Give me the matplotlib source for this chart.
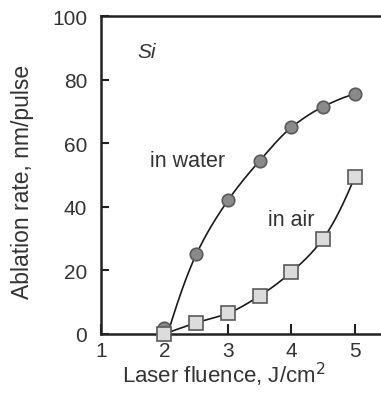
import numpy as np
import matplotlib.pyplot as plt

plt.rcParams['font.family'] = ['Liberation Sans', 'DejaVu Sans']

fluence = [2.0, 2.5, 3.0, 3.5, 4.0, 4.5, 5.0]
rate_water = [2.0, 25.0, 42.0, 54.5, 65.0, 71.5, 75.5]
rate_air = [0.0, 3.5, 6.5, 12.0, 19.5, 30.0, 49.5]
x_ticks = [1, 2, 3, 4, 5]
y_ticks = [0, 20, 40, 60, 80, 100]


def pchip(x, y, n=40):
    """ Monotone cubic (Fritsch-Carlson) curve through the points, only for the drawn line """
    x = np.asarray(x, float)
    y = np.asarray(y, float)
    h = np.diff(x)
    d = np.diff(y) / h
    m = np.zeros(len(x))
    for i in range(1, len(x) - 1):
        if d[i - 1] * d[i] > 0:
            w1 = 2 * h[i] + h[i - 1]
            w2 = h[i] + 2 * h[i - 1]
            m[i] = (w1 + w2) / (w1 / d[i - 1] + w2 / d[i])
    m[0] = ((2 * h[0] + h[1]) * d[0] - h[0] * d[1]) / (h[0] + h[1])
    m[-1] = ((2 * h[-1] + h[-2]) * d[-1] - h[-1] * d[-2]) / (h[-1] + h[-2])
    xs, ys = [], []
    t = np.linspace(0, 1, n)
    for i in range(len(x) - 1):
        h00 = 2 * t**3 - 3 * t**2 + 1
        h10 = t**3 - 2 * t**2 + t
        h01 = -2 * t**3 + 3 * t**2
        h11 = t**3 - t**2
        xs.append(x[i] + t * h[i])
        ys.append(h00 * y[i] + h10 * h[i] * m[i] + h01 * y[i + 1] + h11 * h[i] * m[i + 1])
    return np.concatenate(xs), np.concatenate(ys)


fig = plt.figure(figsize=(3.81, 4.06), dpi=100)
ax = fig.add_axes([0.265, 0.175, 0.735, 0.783])

# water curve starts at threshold near 2.05
wx, wy = pchip([2.05] + fluence[1:], [0.0] + rate_water[1:])
ax.plot(wx, wy, color='#1a1a1a', lw=1.2, zorder=2)
ax.plot(fluence, rate_water, 'o', ms=9, mfc='#8a8a8a', mec='#5a5a5a', mew=1.2, zorder=3, clip_on=False)

ax_x, ax_y = pchip(fluence, rate_air)
ax.plot(ax_x, ax_y, color='#1a1a1a', lw=1.2, zorder=2)
ax.plot(fluence, rate_air, 's', ms=9.5, mfc='#dcdcdc', mec='#5a5a5a', mew=1.2, zorder=4, clip_on=False)

ax.set_xlim(1, 5.41)
ax.set_ylim(0, 100)
ax.set_xticks(x_ticks)
ax.set_yticks(y_ticks)
ax.tick_params(direction='in', length=7, width=1.5, color='#222222',
               labelsize=15, labelcolor='#333333', pad=5)
ax.tick_params(axis='y', length=6, pad=10)
ax.spines['right'].set_visible(False)
for s in ['left', 'top', 'bottom']:
    ax.spines[s].set_linewidth(1.8)
    ax.spines[s].set_color('#222222')

ax.text(1.58, 89, 'Si', style='italic', fontsize=15, color='#333333', va='center')
ax.text(2.37, 54.5, 'in water', fontsize=15.5, color='#333333', ha='center', va='center')
ax.text(4.0, 36, 'in air', fontsize=15.5, color='#333333', ha='center', va='center')

fig.text(0.588, 0.076, 'Laser fluence, J/cm$^2$', fontsize=16, color='#333333',
         ha='center', va='center')
fig.text(0.058, 0.552, 'Ablation rate, nm/pulse', fontsize=16.5, color='#333333',
         ha='center', va='center', rotation=90)

fig.savefig('out.png', dpi=100)
